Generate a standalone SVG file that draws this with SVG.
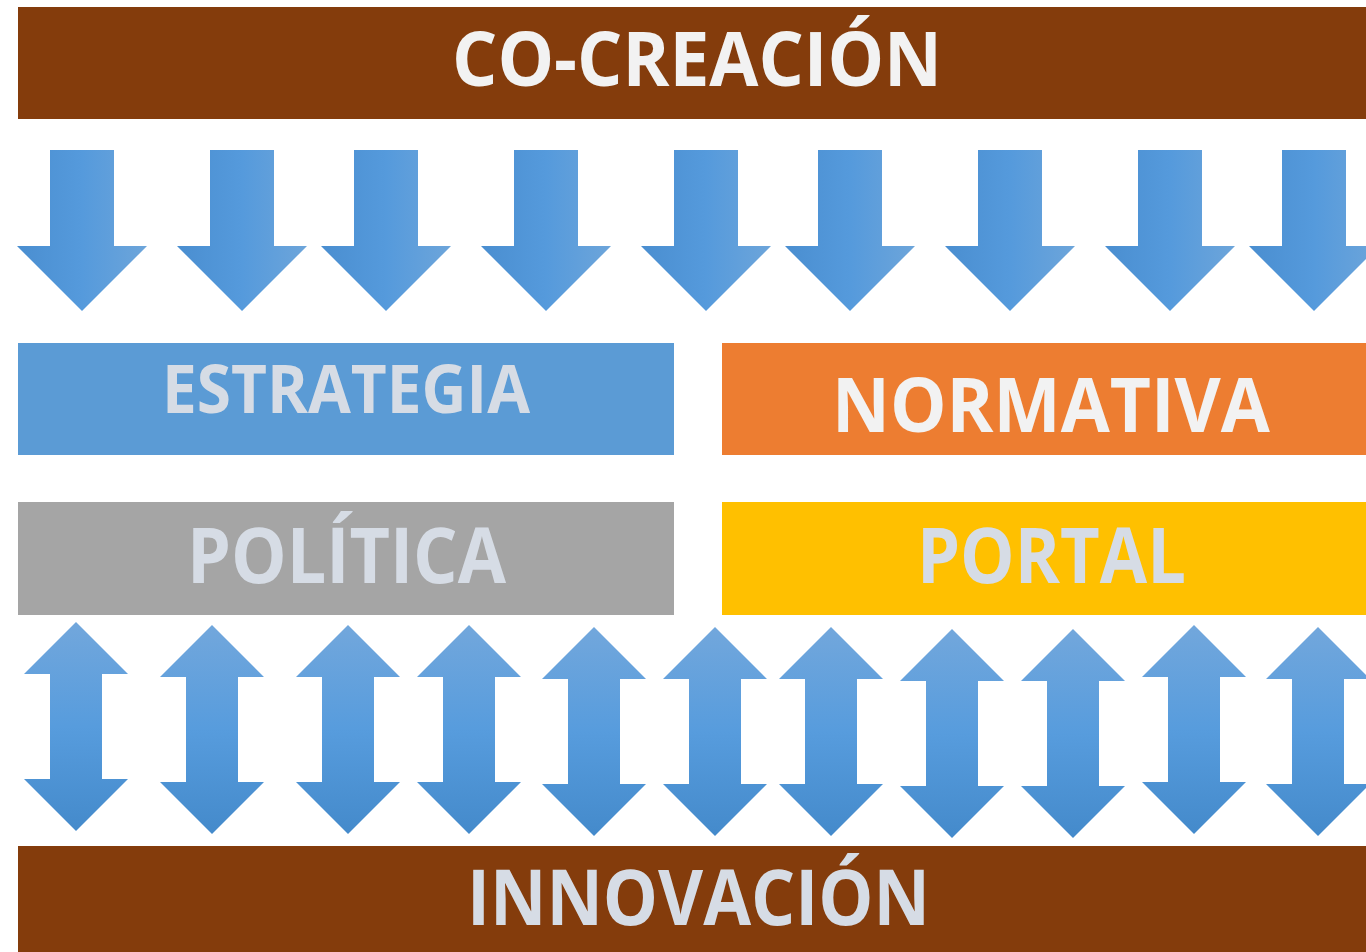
<svg xmlns="http://www.w3.org/2000/svg" width="1366" height="952" viewBox="0 0 1366 952">
<style>
.lbl{font-family:"Open Sans","Liberation Sans",sans-serif;font-weight:bold;text-anchor:start}
.lt{fill:#D6DCE5}
.wt{fill:#F2F2F2}
.da{fill:url(#gh)}
.ud{fill:url(#gv)}
</style>
<defs>
<linearGradient id="gh" x1="0" y1="0" x2="1" y2="0">
<stop offset="0" stop-color="#4A8ED0"/>
<stop offset="0.5" stop-color="#559ADC"/>
<stop offset="1" stop-color="#6DA5DA"/>
</linearGradient>
<linearGradient id="gv" x1="0" y1="0" x2="0" y2="1">
<stop offset="0" stop-color="#72A7DC"/>
<stop offset="0.5" stop-color="#579CDD"/>
<stop offset="1" stop-color="#448ACB"/>
</linearGradient>
<path id="down" d="M-32,0 H32 V96 H65 L0,161 L-65,96 H-32 Z"/>
<path id="updown" d="M0,0 L52,52 H26 V157 H52 L0,209 L-52,157 H-26 V52 H-52 Z"/>
</defs>

<g id="cocreacion">
<rect x="18" y="7" width="1348" height="112" fill="#843C0C"/>
<text class="lbl wt" x="452" y="86" font-size="76" textLength="490" lengthAdjust="spacingAndGlyphs">CO-CREACIÓN</text>
</g>

<g id="estrategia">
<rect x="18" y="343" width="656" height="112" fill="#5B9BD5"/>
<text class="lbl lt" x="162" y="413" font-size="66" textLength="368" lengthAdjust="spacingAndGlyphs">ESTRATEGIA</text>
</g>

<g id="normativa">
<rect x="722" y="343" width="644" height="112" fill="#ED7D31"/>
<text class="lbl wt" x="832" y="432" font-size="76" textLength="438" lengthAdjust="spacingAndGlyphs">NORMATIVA</text>
</g>

<g id="politica">
<rect x="18" y="502" width="656" height="113" fill="#A5A5A5"/>
<text class="lbl lt" x="187" y="583" font-size="77" textLength="319" lengthAdjust="spacingAndGlyphs">POLÍTICA</text>
</g>

<g id="portal">
<rect x="722" y="502" width="644" height="113" fill="#FFC000"/>
<text class="lbl lt" x="917" y="583" font-size="77" textLength="269" lengthAdjust="spacingAndGlyphs">PORTAL</text>
</g>

<g id="innovacion">
<rect x="18" y="846" width="1348" height="106" fill="#843C0C"/>
<text class="lbl lt" x="467" y="925" font-size="77" textLength="463" lengthAdjust="spacingAndGlyphs">INNOVACIÓN</text>
</g>

<g id="connectors">
<use href="#down" class="da" x="82" y="150"/>
<use href="#down" class="da" x="242" y="150"/>
<use href="#down" class="da" x="386" y="150"/>
<use href="#down" class="da" x="546" y="150"/>
<use href="#down" class="da" x="706" y="150"/>
<use href="#down" class="da" x="850" y="150"/>
<use href="#down" class="da" x="1010" y="150"/>
<use href="#down" class="da" x="1170" y="150"/>
<use href="#down" class="da" x="1314" y="150"/>

<use href="#updown" class="ud" x="76" y="622"/>
<use href="#updown" class="ud" x="212" y="625"/>
<use href="#updown" class="ud" x="348" y="625"/>
<use href="#updown" class="ud" x="469" y="625"/>
<use href="#updown" class="ud" x="594" y="627"/>
<use href="#updown" class="ud" x="715" y="627"/>
<use href="#updown" class="ud" x="831" y="627"/>
<use href="#updown" class="ud" x="952" y="629"/>
<use href="#updown" class="ud" x="1073" y="629"/>
<use href="#updown" class="ud" x="1194" y="625"/>
<use href="#updown" class="ud" x="1318" y="627"/>
</g>
</svg>
